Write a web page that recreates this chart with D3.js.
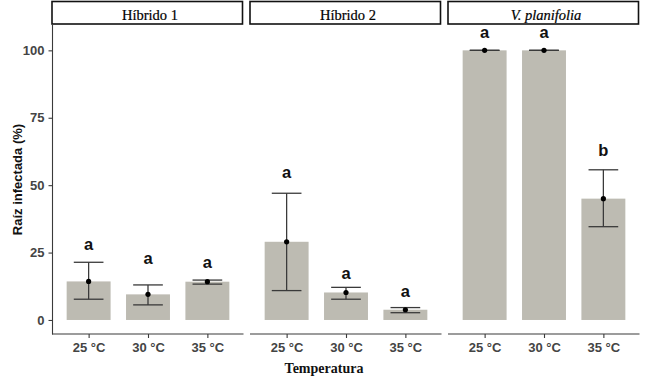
<!DOCTYPE html>
<html>
<head>
<meta charset="utf-8">
<script src="https://cdn.jsdelivr.net/npm/d3@7"></script>
<style>
  body { margin: 0; background: #fff; }
  svg { display: block; }
</style>
</head>
<body>
<svg id="chart" width="647" height="389"></svg>
<script>
// data
const panels = ["Híbrido 1", "Híbrido 2", "V. planifolia"];
const temps = ["25 °C", "30 °C", "35 °C"];
const meanVals = [
  [14.3, 9.5, 14.2],
  [29.0, 10.2, 3.8],
  [100, 100, 45.0]
];
const errLow = [
  [7.7, 5.6, 13.3],
  [10.9, 7.7, 2.7],
  [100, 100, 34.6]
];
const errHigh = [
  [21.4, 13.0, 14.8],
  [47.0, 12.1, 4.6],
  [100, 100, 55.7]
];
const letters = [
  ["a", "a", "a"],
  ["a", "a", "a"],
  ["a", "a", "b"]
];
// baseline of each significance letter, in y units
const letterY = [
  [26.0, 20.6, 19.2],
  [52.6, 15.2, 8.6],
  [104.4, 104.4, 60.8]
];
const yTicks = [0, 25, 50, 75, 100];

const svg = d3.select("#chart");

// layout
const panelTop = 25, panelBottom = 334;
const panelW = 190, panelGap = 8, firstLeft = 53;
const stripTop = 1.5;

const y = d3.scaleLinear()
  .domain([-5.2, 109.4])
  .range([panelBottom, panelTop]);

const x = d3.scalePoint()
  .domain(temps)
  .range([0, panelW])
  .padding(0.6);
const step = x.step();

const barFill = "#bdbbb2";
const ink = "#3a3a3a";

// y axis (only on first panel)
const yAxisX = firstLeft - 0.5;
const yAxis = svg.append("g")
  .attr("transform", `translate(${yAxisX},0)`)
  .call(d3.axisLeft(y).tickValues(yTicks).tickSize(4).tickPadding(4));
yAxis.select(".domain").remove();
yAxis.append("line")
  .attr("y1", panelTop).attr("y2", panelBottom + 0.5)
  .attr("stroke", ink).attr("stroke-width", 1.1);
yAxis.selectAll(".tick line").attr("stroke", ink).attr("stroke-width", 1.1);
yAxis.selectAll(".tick text")
  .attr("font-family", "Liberation Sans, Arial, sans-serif")
  .attr("font-size", 13)
  .attr("font-weight", "bold")
  .attr("fill", "#444");

panels.forEach((name, p) => {
  const left = firstLeft + p * (panelW + panelGap);
  const g = svg.append("g").attr("transform", `translate(${left},0)`);

  // strip
  g.append("rect")
    .attr("x", -1).attr("y", stripTop)
    .attr("width", panelW + 0.5).attr("height", panelTop - stripTop - 1)
    .attr("fill", "#fff")
    .attr("stroke", "#111")
    .attr("stroke-width", 1.6);
  g.append("text")
    .attr("x", panelW / 2 + 2)
    .attr("y", 19.5)
    .attr("text-anchor", "middle")
    .attr("font-family", "Liberation Serif, Times New Roman, serif")
    .attr("font-size", 14.5)
    .attr("font-style", p === 2 ? "italic" : "normal")
    .attr("fill", "#000")
    .attr("stroke", "#000")
    .attr("stroke-width", 0.2)
    .text(name);

  // bars
  g.selectAll("rect.bar")
    .data(temps)
    .join("rect")
    .attr("class", "bar")
    .attr("x", t => x(t) - step * 0.37)
    .attr("width", step * 0.74)
    .attr("y", (t, i) => y(meanVals[p][i]))
    .attr("height", (t, i) => y(0) - y(meanVals[p][i]))
    .attr("fill", barFill);

  // error bars
  const eb = g.selectAll("g.err")
    .data(temps)
    .join("g")
    .attr("class", "err")
    .attr("stroke", ink)
    .attr("stroke-width", 1.3);
  eb.append("line")
    .attr("x1", t => x(t)).attr("x2", t => x(t))
    .attr("y1", (t, i) => y(errLow[p][i]))
    .attr("y2", (t, i) => y(errHigh[p][i]));
  eb.append("line")
    .attr("x1", t => x(t) - step * 0.25).attr("x2", t => x(t) + step * 0.25)
    .attr("y1", (t, i) => y(errLow[p][i]))
    .attr("y2", (t, i) => y(errLow[p][i]));
  eb.append("line")
    .attr("x1", t => x(t) - step * 0.25).attr("x2", t => x(t) + step * 0.25)
    .attr("y1", (t, i) => y(errHigh[p][i]))
    .attr("y2", (t, i) => y(errHigh[p][i]));

  // mean points
  g.selectAll("circle")
    .data(temps)
    .join("circle")
    .attr("cx", t => x(t))
    .attr("cy", (t, i) => y(meanVals[p][i]))
    .attr("r", 2.6)
    .attr("fill", "#000");

  // letters
  g.selectAll("text.sig")
    .data(temps)
    .join("text")
    .attr("class", "sig")
    .attr("x", t => x(t))
    .attr("y", (t, i) => y(letterY[p][i]))
    .attr("text-anchor", "middle")
    .attr("font-family", "Liberation Sans, Arial, sans-serif")
    .attr("font-size", 16.5)
    .attr("font-weight", "bold")
    .attr("fill", "#111")
    .text((t, i) => letters[p][i]);

  // x axis
  const xa = g.append("g")
    .attr("transform", `translate(0,${panelBottom})`)
    .call(d3.axisBottom(x).tickSize(4).tickPadding(5));
  xa.select(".domain").remove();
  xa.append("line")
    .attr("x1", -1).attr("x2", panelW + 0.5)
    .attr("stroke", ink).attr("stroke-width", 1.1);
  xa.selectAll(".tick line").attr("stroke", ink).attr("stroke-width", 1.1);
  xa.selectAll(".tick text")
    .attr("font-family", "Liberation Sans, Arial, sans-serif")
    .attr("font-size", 13)
    .attr("font-weight", "bold")
    .attr("fill", "#444");
});

// axis titles
svg.append("text")
  .attr("transform", `translate(22,${(panelTop + panelBottom) / 2}) rotate(-90)`)
  .attr("text-anchor", "middle")
  .attr("font-family", "Liberation Sans, Arial, sans-serif")
  .attr("font-size", 13)
  .attr("font-weight", "bold")
  .attr("fill", "#111")
  .text("Raíz infectada (%)");

svg.append("text")
  .attr("x", 324)
  .attr("y", 373)
  .attr("text-anchor", "middle")
  .attr("font-family", "Liberation Serif, Times New Roman, serif")
  .attr("font-size", 14)
  .attr("font-weight", "bold")
  .attr("fill", "#111")
  .text("Temperatura");
</script>
</body>
</html>
